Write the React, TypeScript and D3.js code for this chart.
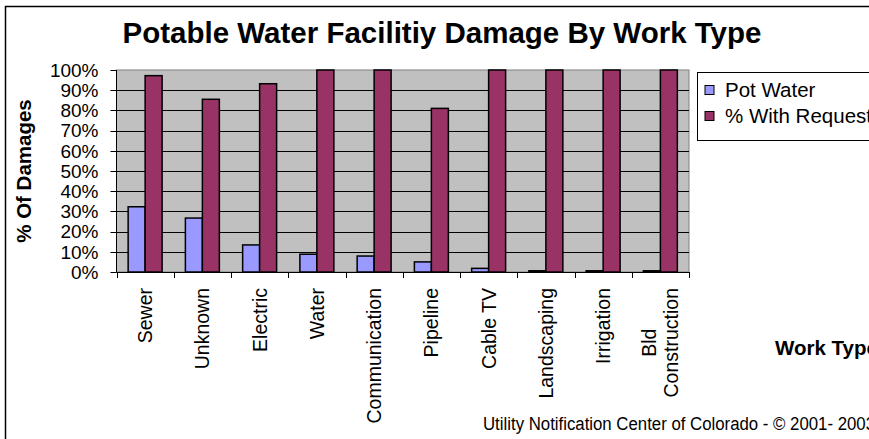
import React, { useEffect, useRef } from "react";
import * as d3 from "d3";

const categories = [
  "Sewer",
  "Unknown",
  "Electric",
  "Water",
  "Communication",
  "Pipeline",
  "Cable TV",
  "Landscaping",
  "Irrigation",
  "Bld\nConstruction",
];
const potWater = [32.3, 26.7, 13.4, 8.8, 7.9, 5.0, 1.8, 0.6, 0.6, 0.6];
const withRequest = [97.2, 85.5, 93.2, 100, 100, 81, 100, 100, 100, 100];
const seriesNames = ["Pot Water", "% With Request"];
const seriesColors = ["#9999FF", "#993366"];
const yTicks = [0, 10, 20, 30, 40, 50, 60, 70, 80, 90, 100];

const FONT = "'Liberation Sans', Arial, Helvetica, sans-serif";

export default function App() {
  const ref = useRef<SVGSVGElement | null>(null);

  useEffect(() => {
    const svg = d3.select(ref.current);
    svg.selectAll("*").remove();

    const W = 869;
    const H = 439;
    const plot = { left: 116.5, right: 689, top: 70, bottom: 272 };

    // outer frame
    svg
      .append("rect")
      .attr("x", 5.5)
      .attr("y", 6.5)
      .attr("width", W + 20)
      .attr("height", H + 20)
      .attr("fill", "#fff")
      .attr("stroke", "#000")
      .attr("stroke-width", 1.5);

    const x = d3
      .scaleBand<string>()
      .domain(categories)
      .range([plot.left, plot.right])
      .paddingInner(0)
      .paddingOuter(0);
    const y = d3.scaleLinear().domain([0, 100]).range([plot.bottom, plot.top]);

    const bw = x.bandwidth() / (2 + 1.37);
    const xs = d3
      .scaleBand<number>()
      .domain([0, 1])
      .range([0, 2 * bw]);

    // plot area background
    svg
      .append("rect")
      .attr("x", plot.left)
      .attr("y", plot.top)
      .attr("width", plot.right - plot.left)
      .attr("height", plot.bottom - plot.top)
      .attr("fill", "#C0C0C0")
      .attr("stroke", "#808080")
      .attr("stroke-width", 1);

    // gridlines
    svg
      .append("g")
      .selectAll("line")
      .data(yTicks.filter((t) => t > 0 && t < 100))
      .join("line")
      .attr("x1", plot.left)
      .attr("x2", plot.right)
      .attr("y1", (d) => Math.round(y(d)) + 0.5)
      .attr("y2", (d) => Math.round(y(d)) + 0.5)
      .attr("stroke", "#000")
      .attr("stroke-width", 1);

    // bars
    const series = [potWater, withRequest];
    series.forEach((vals, si) => {
      svg
        .append("g")
        .selectAll("rect")
        .data(vals)
        .join("rect")
        .attr(
          "x",
          (_, i) =>
            (x(categories[i]) as number) +
            (x.bandwidth() - 2 * bw) / 2 +
            (xs(si) as number)
        )
        .attr("y", (d) => y(d))
        .attr("width", bw)
        .attr("height", (d) => plot.bottom - y(d))
        .attr("fill", seriesColors[si])
        .attr("stroke", "#000")
        .attr("stroke-width", 1.5);
    });

    // y axis line and ticks
    svg
      .append("line")
      .attr("x1", plot.left)
      .attr("x2", plot.left)
      .attr("y1", plot.top)
      .attr("y2", plot.bottom)
      .attr("stroke", "#000");
    svg
      .append("g")
      .selectAll("line")
      .data(yTicks)
      .join("line")
      .attr("x1", plot.left - 6)
      .attr("x2", plot.left)
      .attr("y1", (d) => Math.round(y(d)) + 0.5)
      .attr("y2", (d) => Math.round(y(d)) + 0.5)
      .attr("stroke", "#000");
    svg
      .append("g")
      .selectAll("text")
      .data(yTicks)
      .join("text")
      .attr("x", 98.5)
      .attr("y", (d) => y(d))
      .attr("dy", "0.36em")
      .attr("text-anchor", "end")
      .attr("font-family", FONT)
      .attr("font-size", 19)
      .text((d) => `${d}%`);

    // x axis line and ticks
    svg
      .append("line")
      .attr("x1", plot.left)
      .attr("x2", plot.right)
      .attr("y1", plot.bottom + 0.5)
      .attr("y2", plot.bottom + 0.5)
      .attr("stroke", "#000");
    const bounds = categories.map((c) => x(c) as number).concat([plot.right]);
    svg
      .append("g")
      .selectAll("line")
      .data(bounds)
      .join("line")
      .attr("x1", (d) => Math.round(d) + 0.5)
      .attr("x2", (d) => Math.round(d) + 0.5)
      .attr("y1", plot.bottom)
      .attr("y2", plot.bottom + 6)
      .attr("stroke", "#000");

    // x labels (rotated)
    const labelTop = 288;
    const fs = 19.5;
    const lineH = 22;
    categories.forEach((c) => {
      const lines = c.split("\n");
      const cx = (x(c) as number) + x.bandwidth() / 2;
      const g = svg.append("g");
      const n = lines.length;
      const texts = lines.map((ln, li) => {
        const off = (li - (n - 1) / 2) * lineH;
        const bx = cx + off + fs * 0.36;
        return g
          .append("text")
          .attr("font-family", FONT)
          .attr("font-size", fs)
          .attr("text-anchor", n === 1 ? "end" : "middle")
          .attr("data-bx", bx)
          .text(ln);
      });
      if (n === 1) {
        const bx = +texts[0].attr("data-bx");
        texts[0].attr("transform", `translate(${bx},${labelTop}) rotate(-90)`);
      } else {
        const maxL = d3.max(texts, (t) => (t.node() as SVGTextElement).getComputedTextLength()) || 0;
        texts.forEach((t) => {
          const bx = +t.attr("data-bx");
          t.attr("transform", `translate(${bx},${labelTop + maxL / 2}) rotate(-90)`);
        });
      }
    });

    // title
    svg
      .append("text")
      .attr("x", 442)
      .attr("y", 43)
      .attr("text-anchor", "middle")
      .attr("font-family", FONT)
      .attr("font-weight", "bold")
      .attr("font-size", 29.5)
      .text("Potable Water Facilitiy Damage By Work Type");

    // y axis title
    svg
      .append("text")
      .attr("transform", `translate(31,${(plot.top + plot.bottom) / 2}) rotate(-90)`)
      .attr("text-anchor", "middle")
      .attr("font-family", FONT)
      .attr("font-weight", "bold")
      .attr("font-size", 20.5)
      .text("% Of Damages");

    // x axis title
    svg
      .append("text")
      .attr("x", 775)
      .attr("y", 355)
      .attr("font-family", FONT)
      .attr("font-weight", "bold")
      .attr("font-size", 20.5)
      .text("Work Type");

    // footer
    svg
      .append("text")
      .attr("x", 483)
      .attr("y", 430)
      .attr("font-family", FONT)
      .attr("font-size", 18)
      .attr("textLength", 392)
      .attr("lengthAdjust", "spacingAndGlyphs")
      .text("Utility Notification Center of Colorado - \u00A9 2001- 2003");

    // legend
    const lg = svg.append("g");
    lg.append("rect")
      .attr("x", 697.5)
      .attr("y", 72.5)
      .attr("width", 250)
      .attr("height", 68)
      .attr("fill", "#fff")
      .attr("stroke", "#000")
      .attr("stroke-width", 1);
    seriesNames.forEach((nm, i) => {
      const cy = 90 + i * 26;
      lg.append("rect")
        .attr("x", 705)
        .attr("y", cy - 4.5)
        .attr("width", 9)
        .attr("height", 9)
        .attr("fill", seriesColors[i])
        .attr("stroke", "#000")
        .attr("stroke-width", 1);
      lg.append("text")
        .attr("x", 725)
        .attr("y", cy + 7)
        .attr("font-family", FONT)
        .attr("font-size", 20.5)
        .text(nm);
    });
  }, []);

  return (
    <svg
      ref={ref}
      width={869}
      height={439}
      style={{ position: "absolute", left: 0, top: 0, background: "#fff" }}
    />
  );
}
